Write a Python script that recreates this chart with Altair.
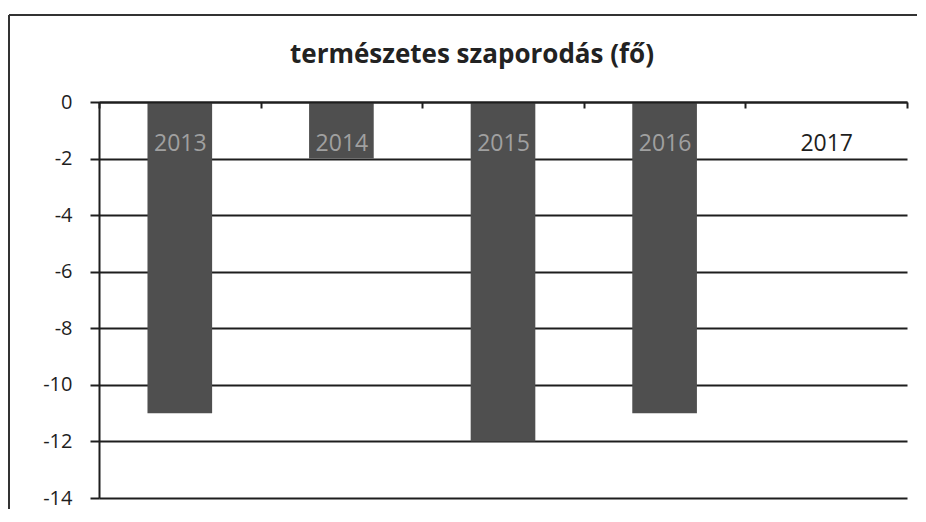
import altair as alt
import pandas as pd

years = ["2013", "2014", "2015", "2016", "2017"]
values = [-11, -2, -12, -11, 0]
y_ticks = [-14, -12, -10, -8, -6, -4, -2, 0]
title_text = "természetes szaporodás (fő)"

df = pd.DataFrame({"year": years, "value": values})

W, H = 808, 396
FONT = "Open Sans"
INK = "#1e1e1e"

bars = alt.Chart(df).mark_bar(color="#4f4f4f", width=alt.RelativeBandSize(0.4)).encode(
    x=alt.X(
        "year:N", sort=years,
        scale=alt.Scale(paddingInner=0, paddingOuter=0),
        axis=alt.Axis(
            orient="bottom", offset=-H, title=None, grid=False,
            domain=True, domainColor=INK, domainWidth=2,
            ticks=True, tickBand="extent", tickSize=6, tickColor=INK, tickWidth=2,
            labelAngle=0, labelPadding=24, labelFont=FONT, labelFontSize=23,
            labelColor={"condition": {"test": "datum.value == '2017'", "value": INK}, "value": "#a0a0a0"},
            zindex=1,
        ),
    ),
    y=alt.Y(
        "value:Q",
        scale=alt.Scale(domain=[-14, 0], nice=False),
        axis=alt.Axis(
            values=y_ticks, title=None, grid=True, gridColor=INK, gridWidth=2,
            domain=True, domainColor=INK, domainWidth=2,
            tickSize=9, tickColor=INK, tickWidth=2,
            labelPadding=18, labelFont=FONT, labelFontSize=20, labelColor=INK,
            labelExpr="toString(datum.value)",
        ),
    ),
)

frame = alt.Data(values=[{}])
top_line = alt.Chart(frame).mark_rule(color="#333333", strokeWidth=2).encode(
    x=alt.value(-90), x2=alt.value(W + 30), y=alt.value(-87)
)
left_line = alt.Chart(frame).mark_rule(color="#333333", strokeWidth=2).encode(
    x=alt.value(-90), y=alt.value(-87), y2=alt.value(H + 30)
)

chart = alt.layer(top_line, left_line, bars).properties(
    width=W, height=H,
    autosize="none",
    padding={"left": 91, "top": 94, "right": 10, "bottom": 11},
    background="white",
    title=alt.TitleParams(
        text=title_text, font=FONT, fontSize=26, fontWeight="bold", color="#222222",
        anchor="middle", offset=-80, baseline="bottom", dx=-31,
    ),
).configure_view(stroke=None)

chart.save("out.html", embed_options={"renderer": "svg", "actions": False})
